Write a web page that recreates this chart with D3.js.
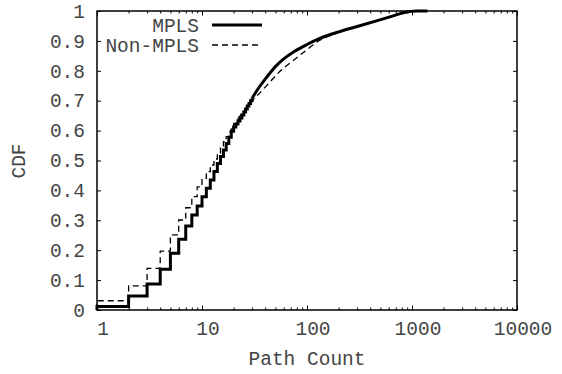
<!DOCTYPE html>
<html>
<head>
<meta charset="utf-8">
<script src="https://cdn.jsdelivr.net/npm/d3@7"></script>
<style>
  body { margin: 0; background: #fff; }
  text { font-family: "Liberation Mono", "DejaVu Sans Mono", monospace; font-size: 19.5px; fill: #444; }
</style>
</head>
<body>
<svg width="562" height="374"></svg>
<script>
// step part of each CDF: path count (integer) and cdf after the step
var mplsSteps = [
  [1, 0.012], [2, 0.047], [3, 0.087], [4, 0.136], [5, 0.19], [6, 0.237],
  [7, 0.281], [8, 0.318], [9, 0.348], [10, 0.379], [11, 0.407], [12, 0.435],
  [13, 0.463], [14, 0.49], [15, 0.513], [16, 0.535], [17, 0.557], [18, 0.578],
  [19, 0.598], [20, 0.612], [21, 0.622], [22, 0.632], [23, 0.642], [24, 0.652],
  [25, 0.662], [26, 0.672], [27, 0.682], [28, 0.691], [29, 0.7], [30, 0.708]
];
// smooth tail
var mplsTail = [
  [30, 0.708], [35, 0.745], [40, 0.772], [45, 0.795], [50, 0.814], [60, 0.84],
  [75, 0.864], [100, 0.888], [134, 0.909], [200, 0.93], [300, 0.948],
  [450, 0.966], [650, 0.983], [850, 0.995], [1100, 1.0], [1400, 1.0]
];

var nonSteps = [
  [1, 0.031], [2, 0.081], [3, 0.139], [4, 0.197], [5, 0.251], [6, 0.301],
  [7, 0.342], [8, 0.379], [9, 0.412], [10, 0.44], [11, 0.463], [12, 0.485],
  [13, 0.505], [14, 0.525], [15, 0.545], [16, 0.563], [17, 0.58], [18, 0.595],
  [19, 0.61], [20, 0.623], [21, 0.632], [22, 0.64]
];
var nonTail = [
  [22, 0.64], [25, 0.665], [30, 0.7], [36, 0.728], [45, 0.765], [56, 0.8],
  [75, 0.836], [93, 0.862], [134, 0.903], [200, 0.928], [300, 0.948],
  [450, 0.966], [650, 0.983], [850, 0.995], [1100, 1.0], [1300, 1.0]
];

var xMajor = [1, 10, 100, 1000, 10000];
var xMinor = [2, 3, 4, 5, 6, 7, 8, 9, 20, 30, 40, 50, 60, 70, 80, 90,
  200, 300, 400, 500, 600, 700, 800, 900, 2000, 3000, 4000, 5000, 6000, 7000, 8000, 9000];
var yTicks = [0, 0.1, 0.2, 0.3, 0.4, 0.5, 0.6, 0.7, 0.8, 0.9, 1];
var seriesNames = ['MPLS', 'Non-MPLS'];

var svg = d3.select('svg');
var plotLeft = 97, plotRight = 517, plotTop = 11, plotBottom = 310;

var x = d3.scaleLog().domain([1, 10000]).range([plotLeft, plotRight]);
var y = d3.scaleLinear().domain([0, 1]).range([plotBottom, plotTop]);

// axes: ticks point inward, mirrored on top/right
function yFmt(d) { return d === 0 ? '0' : d === 1 ? '1' : d.toFixed(1); }

var gb = svg.append('g').attr('transform', 'translate(0,' + plotBottom + ')')
  .call(d3.axisBottom(x).tickValues(xMajor).tickSize(-4.5).tickPadding(11).tickFormat(d3.format('d')));
gb.selectAll('text').attr('dx', 5.5);
svg.append('g').attr('transform', 'translate(0,' + plotBottom + ')')
  .call(d3.axisBottom(x).tickValues(xMinor).tickSize(-2.5).tickFormat(''));
svg.append('g').attr('transform', 'translate(0,' + plotTop + ')')
  .call(d3.axisTop(x).tickValues(xMajor).tickSize(-4.5).tickFormat(''));
svg.append('g').attr('transform', 'translate(0,' + plotTop + ')')
  .call(d3.axisTop(x).tickValues(xMinor).tickSize(-2.5).tickFormat(''));
svg.append('g').attr('transform', 'translate(' + plotLeft + ',0)')
  .call(d3.axisLeft(y).tickValues(yTicks).tickSize(-4).tickPadding(12).tickFormat(yFmt));
svg.append('g').attr('transform', 'translate(' + plotRight + ',0)')
  .call(d3.axisRight(y).tickValues(yTicks).tickSize(-4).tickFormat(''));

svg.selectAll('.domain').remove();
svg.selectAll('.tick line').attr('stroke', '#000').attr('stroke-width', 1);
svg.selectAll('.tick text').style('font-family', '"Liberation Mono", monospace').style('font-size', '19.5px').attr('fill', '#444');

// data lines
var stepLine = d3.line().x(d => x(d[0])).y(d => y(d[1])).curve(d3.curveStepAfter);
var smoothLine = d3.line().x(d => x(d[0])).y(d => y(d[1])).curve(d3.curveMonotoneX);

// start each step curve at cdf 0 at x = 1
var mplsStart = [[1, 0]].concat(mplsSteps);
var nonStart = [[1, 0]].concat(nonSteps);

svg.append('path').datum(nonStart).attr('d', stepLine)
  .attr('fill', 'none').attr('stroke', '#000').attr('stroke-width', 1.3).attr('stroke-dasharray', '6,4');
svg.append('path').datum(nonTail).attr('d', smoothLine)
  .attr('fill', 'none').attr('stroke', '#000').attr('stroke-width', 1.3).attr('stroke-dasharray', '6,4');

svg.append('path').datum(mplsStart).attr('d', stepLine)
  .attr('fill', 'none').attr('stroke', '#000').attr('stroke-width', 3);
svg.append('path').datum(mplsTail).attr('d', smoothLine)
  .attr('fill', 'none').attr('stroke', '#000').attr('stroke-width', 3);

// frame
svg.append('rect').attr('x', plotLeft).attr('y', plotTop)
  .attr('width', plotRight - plotLeft).attr('height', plotBottom - plotTop)
  .attr('fill', 'none').attr('stroke', '#000').attr('stroke-width', 1.5);

// legend
var legend = svg.append('g');
seriesNames.forEach(function(name, i) {
  var ly = 25 + i * 20;
  legend.append('text').attr('x', 199).attr('y', ly + 6.5).attr('text-anchor', 'end').text(name);
  legend.append('line').attr('x1', 212).attr('x2', 262).attr('y1', ly).attr('y2', ly)
    .attr('stroke', '#000')
    .attr('stroke-width', i === 0 ? 3 : 1.3)
    .attr('stroke-dasharray', i === 0 ? null : '6,4');
});

// axis titles
svg.append('text').attr('x', 307).attr('y', 365).attr('text-anchor', 'middle').text('Path Count');
svg.append('text').attr('transform', 'translate(25,161) rotate(-90)').attr('text-anchor', 'middle').text('CDF');
</script>
</body>
</html>
